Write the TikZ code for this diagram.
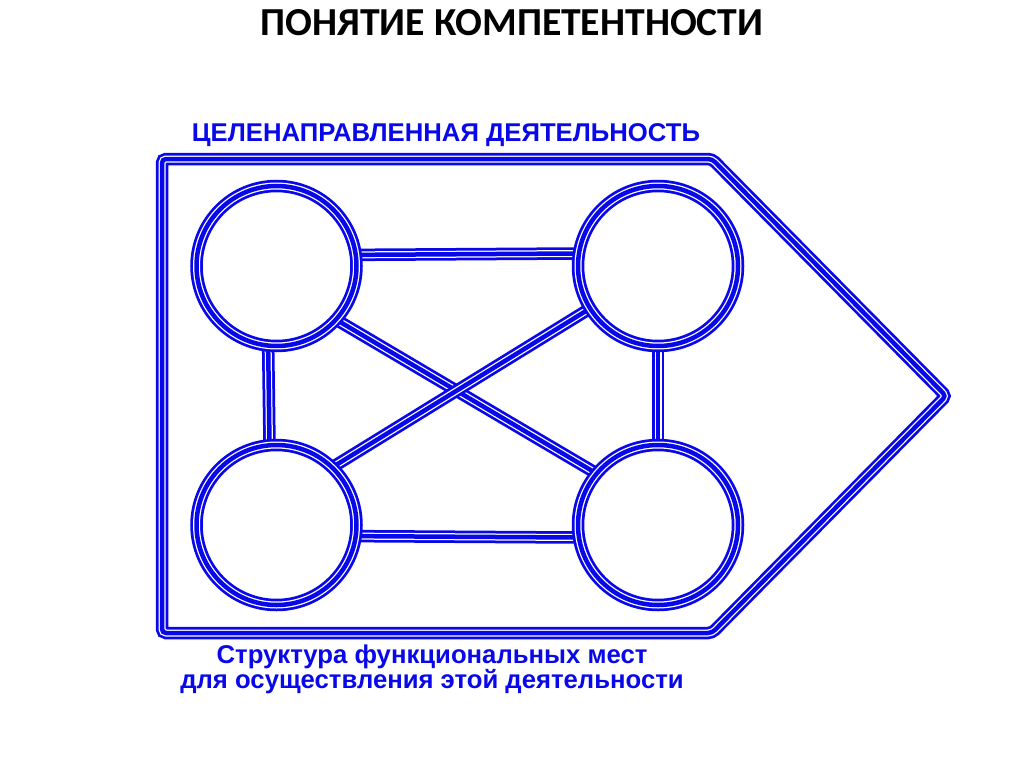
\documentclass[tikz,border=0pt]{standalone}
\usepackage{fontspec}
\setmainfont{Liberation Sans}
\newfontfamily\titlefont{Carlito}
\definecolor{myblue}{RGB}{8,8,232}
\begin{document}
\begin{tikzpicture}[x=1bp,y=-1bp,
  tri/.style={preaction={draw=myblue,line width=12.5bp},
              preaction={draw=white,line width=7bp},
              draw=myblue,line width=4.5bp},
  place/.style={circle,minimum size=160bp,inner sep=0pt,outer sep=0pt},
  bluetext/.style={text=myblue,font=\fontsize{25.7bp}{25bp}\selectfont\bfseries}]
\path[use as bounding box,fill=white] (0,0) rectangle (1024,767);
% title
\node[font=\titlefont\fontsize{39.7bp}{40bp}\selectfont\bfseries] (title) at (512,23) {ПОНЯТИЕ КОМПЕТЕНТНОСТИ};
\node[bluetext] (goal) at (446,135) {ЦЕЛЕНАПРАВЛЕННАЯ ДЕЯТЕЛЬНОСТЬ};
\node[bluetext,align=center] (struct) at (432,669) {Структура функциональных мест\\для осуществления этой деятельности};
% frame
\coordinate (p1) at (162,159);
\coordinate (p2) at (712,159);
\coordinate (p3) at (946,396);
\coordinate (p4) at (712,633);
\coordinate (p5) at (162,633);
\draw[tri,rounded corners=4bp] (p1) -- (p2) -- (p3) -- (p4) -- (p5) -- cycle;
% places
\node[place] (c1) at (276.5,266) {};
\node[place] (c2) at (658,266) {};
\node[place] (c3) at (276.5,525) {};
\node[place] (c4) at (658,525) {};
% connectors
\draw[tri] (c1.8.6) -- (c2.171.4);
\draw[tri] (c3.-8.6) -- (c4.-171.4);
\draw[tri] (c1.264.6) -- (c3.95.4);
\draw[tri] (c2.270) -- (c4.90);
\draw[tri] (c1.-42) -- (c4.140);
\draw[tri] (c3.46) -- (c2.212);
% circles on top
\foreach \c in {c1,c2,c3,c4}{
  \draw[tri] (\c.center) circle (80bp);
}
\end{tikzpicture}
\end{document}
